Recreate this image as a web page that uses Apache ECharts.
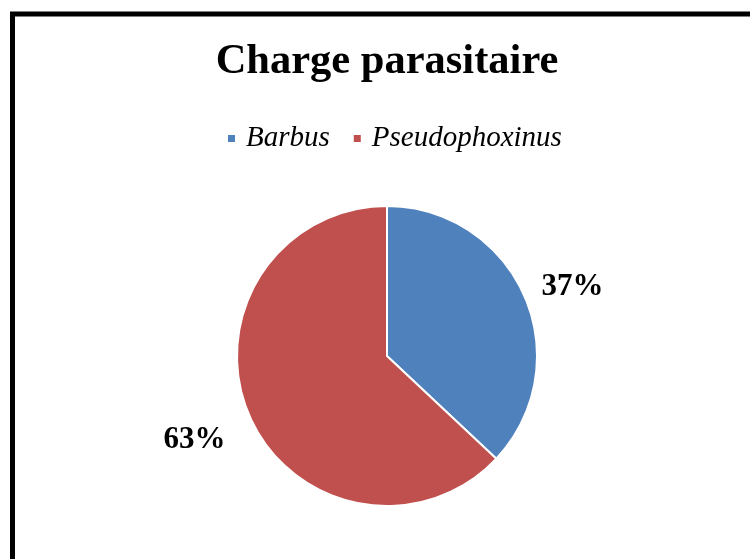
<!DOCTYPE html>
<html><head><meta charset="utf-8">
<script src="https://cdn.jsdelivr.net/npm/echarts@6/dist/echarts.min.js"></script>
<style>html,body{margin:0;padding:0;background:#fff}#c{width:750px;height:559px}</style>
</head><body><div id="c"></div>
<script>
const categories = ['Barbus', 'Pseudophoxinus'];
const values = [37, 63];
const colors = ['#4F81BD', '#C0504D'];
const labelNudges = [[-3, 13], [-4, 2]];
const chart = echarts.init(document.getElementById('c'));
chart.setOption({
  animation: false,
  backgroundColor: '#fff',
  graphic: [{type:'rect', shape:{x:12.5, y:14, width:900, height:700}, style:{fill:'none', stroke:'#000', lineWidth:5}, z:-1}],
  title: {text:'Charge parasitaire', left:382, top:36, textAlign:'center',
    textStyle:{fontFamily:'Liberation Serif', fontWeight:'bold', fontSize:42.5, color:'#000'}},
  legend: {data: categories, left:226, top:119, itemWidth:9, itemHeight:9, itemGap:22, icon:'rect',
    textStyle:{fontFamily:'Liberation Serif', fontStyle:'italic', fontSize:29, color:'#000', padding:[0,0,0,5]}, padding:[5,0,5,0]},
  series: [{
    type:'pie', center:[387,356], radius:150, startAngle:90, clockwise:true,
    itemStyle:{borderColor:'#fff', borderWidth:2},
    label:{show:false},
    labelLine:{show:false},
    emphasis:{disabled:true},
    data: categories.map((c,i)=>({name:c, value:values[i], itemStyle:{color:colors[i]}}))
  },{
    type:'pie', center:[387,356], radius:[0,405], startAngle:90, clockwise:true, silent:true,
    itemStyle:{color:'rgba(0,0,0,0)', borderWidth:0},
    label:{show:true, position:'inside', formatter:'{d}%', fontFamily:'Liberation Serif', fontWeight:'bold', fontSize:31, color:'#000'},
    labelLine:{show:false},
    emphasis:{disabled:true},
    data: categories.map((c,i)=>({name:c, value:values[i], itemStyle:{color:'rgba(0,0,0,0)'}, label:{offset:labelNudges[i]}}))
  }]
});
</script></body></html>
